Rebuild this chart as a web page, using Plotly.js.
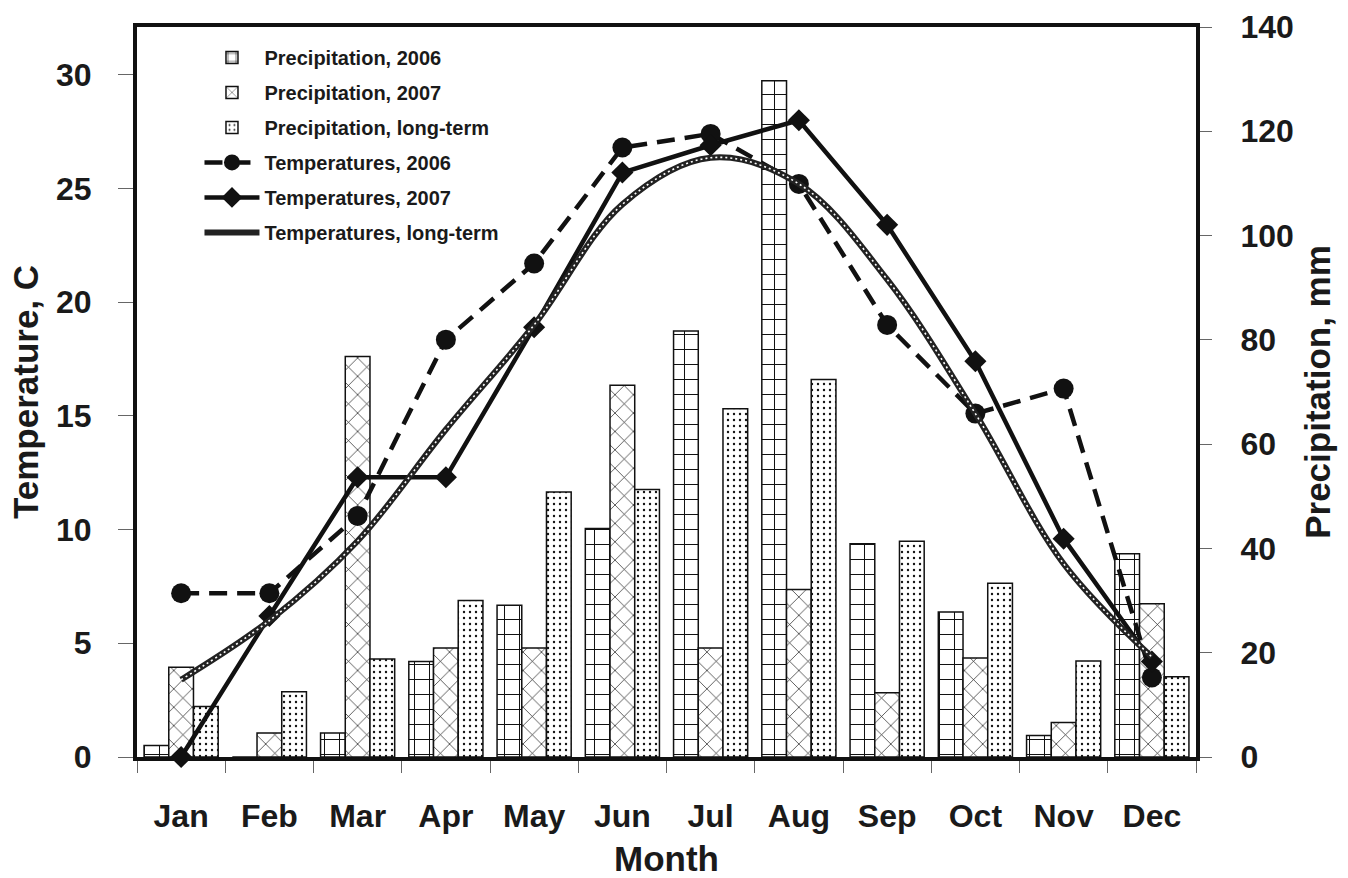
<!DOCTYPE html>
<html>
<head>
<meta charset="utf-8">
<script src="https://cdn.plot.ly/plotly-3.0.1.min.js"></script>
<style>html,body{margin:0;padding:0;background:#fff;}#chart{width:1348px;height:878px;}</style>
</head>
<body>
<div id="chart"></div>
<script>
const months = ["Jan","Feb","Mar","Apr","May","Jun","Jul","Aug","Sep","Oct","Nov","Dec"];

const precip2006 = [2.2, 0, 4.6, 18.3, 29.1, 43.8, 81.7, 129.7, 40.9, 27.8, 4.1, 39.0];
const precip2007 = [17.2, 4.6, 76.8, 20.9, 20.9, 71.3, 20.9, 32.1, 12.3, 19.0, 6.6, 29.4];
const precipLT   = [9.7, 12.5, 18.8, 30.0, 50.8, 51.3, 66.8, 72.4, 41.4, 33.3, 18.4, 15.4];

const temp2006 = [7.2, 7.2, 10.6, 18.35, 21.7, 26.8, 27.4, 25.2, 19.0, 15.1, 16.2, 3.5];
const temp2007 = [0.0, 6.2, 12.3, 12.3, 18.9, 25.7, 26.9, 28.0, 23.4, 17.4, 9.6, 4.2];
const tempLT   = [3.4, 6.0, 9.5, 14.4, 19.0, 24.3, 26.35, 25.2, 21.0, 15.1, 8.5, 4.4];

const seriesNames = [
  "Precipitation, 2006", "Precipitation, 2007", "Precipitation, long-term",
  "Temperatures, 2006", "Temperatures, 2007", "Temperatures, long-term"
];

const barLine = {color: "#111", width: 1.5};
const traces = [
  {type: "bar", x: months, y: precip2006, name: seriesNames[0], yaxis: "y", legendgroup: "g1",
   marker: {color: "#fff", line: barLine, pattern: {shape: "+", size: 15, solidity: 0.13, fgcolor: "#111", bgcolor: "#fff"}}},
  {type: "bar", x: months, y: precip2007, name: seriesNames[1], yaxis: "y", legendgroup: "g2",
   marker: {color: "#fff", line: barLine, pattern: {shape: "x", size: 13, solidity: 0.1, fgcolor: "#111", bgcolor: "#fff"}}},
  {type: "bar", x: months, y: precipLT, name: seriesNames[2], yaxis: "y", legendgroup: "g3",
   marker: {color: "#fff", line: barLine, pattern: {shape: ".", size: 6, solidity: 0.12, fgcolor: "#111", bgcolor: "#fff"}}},
  {type: "scatter", mode: "lines+markers", x: months, y: temp2006, name: seriesNames[3], yaxis: "y2", legendgroup: "g4",
   cliponaxis: false,
   line: {color: "#111", width: 4.5, dash: "18px,10px"},
   marker: {symbol: "circle", size: 20, color: "#111"}},
  {type: "scatter", mode: "lines+markers", x: months, y: temp2007, name: seriesNames[4], yaxis: "y2", legendgroup: "g5",
   cliponaxis: false,
   line: {color: "#111", width: 4.5},
   marker: {symbol: "diamond", size: 17, color: "#111"}},
  {type: "scatter", mode: "lines", x: months, y: tempLT, name: seriesNames[5], yaxis: "y2", legendgroup: "g6",
   line: {color: "#222", width: 6, shape: "spline", smoothing: 1}},
  {type: "scatter", mode: "lines", x: months, y: tempLT, name: seriesNames[5], yaxis: "y2", legendgroup: "g6",
   showlegend: false, hoverinfo: "skip",
   line: {color: "#fff", width: 1.6, shape: "spline", smoothing: 1, dash: "2px,3px"}}
];

const tickFont = {family: "Liberation Sans, Arial, sans-serif", size: 32, color: "#1a1a1a", weight: "bold"};
const titleFont = {family: "Liberation Sans, Arial, sans-serif", size: 35, color: "#1a1a1a", weight: "bold"};

const layout = {
  width: 1348, height: 878,
  margin: {l: 137, r: 152, t: 27, b: 121},
  paper_bgcolor: "#fff", plot_bgcolor: "#fff",
  barmode: "group", bargap: 0.16, bargroupgap: 0,
  showlegend: true,
  legend: {x: 0.059, y: 0.985, xanchor: "left", yanchor: "top", bgcolor: "rgba(0,0,0,0)",
           font: {family: "Liberation Sans, Arial, sans-serif", size: 20, color: "#1a1a1a", weight: "bold"},
           itemwidth: 55, tracegroupgap: 6, traceorder: "grouped"},
  xaxis: {type: "category", range: [-0.5, 11.5], showline: true, linewidth: 4, linecolor: "#111", mirror: true,
          ticks: "outside", tickson: "boundaries", ticklen: 12, tickwidth: 1, tickcolor: "#666",
          ticklabelstandoff: 28, tickfont: tickFont, showgrid: false, zeroline: false,
          title: {text: "Month", font: titleFont, standoff: 28}},
  yaxis: {side: "right", range: [0, 140], dtick: 20, showline: true, linewidth: 4, linecolor: "#111",
          ticks: "outside", ticklen: 12, tickwidth: 1, tickcolor: "#666", ticklabelstandoff: 22,
          tickfont: tickFont, showgrid: false, zeroline: false,
          title: {text: "Precipitation, mm", font: titleFont, standoff: 14}},
  yaxis2: {side: "left", overlaying: "y", range: [0, 32.1], dtick: 5, showline: true, linewidth: 4, linecolor: "#111",
           ticks: "outside", ticklen: 15, tickwidth: 1, tickcolor: "#666", ticklabelstandoff: 20,
           tickfont: tickFont, showgrid: false, zeroline: false,
           title: {text: "Temperature, C", font: titleFont, standoff: 8}}
};

Plotly.newPlot("chart", traces, layout, {staticPlot: true, displayModeBar: false});
</script>
</body>
</html>
